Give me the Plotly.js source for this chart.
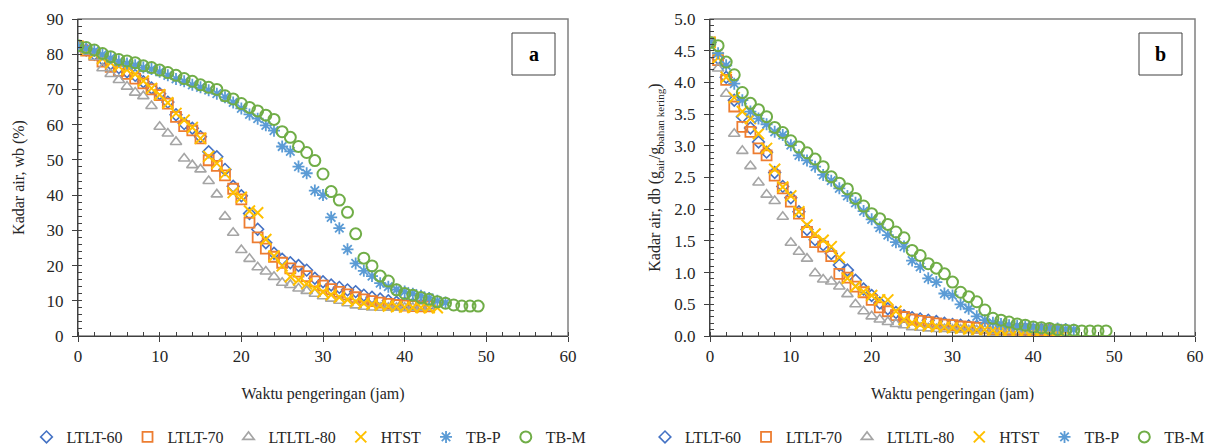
<!DOCTYPE html>
<html>
<head>
<meta charset="utf-8">
<script src="https://cdn.plot.ly/plotly-3.0.1.min.js"></script>
<style>html,body{margin:0;padding:0;background:#fff;}#chart{width:1212px;height:448px;}</style>
</head>
<body>
<div id="chart"></div>
<script>
// Time (jam)
const hours = [0,1,2,3,4,5,6,7,8,9,10,11,12,13,14,15,16,17,18,19,20,21,22,23,24,25,26,27,28,29,30,31,32,33,34,35,36,37,38,39,40,41,42,43,44,45,46,47,48,49];

const seriesNames = ['LTLT-60','LTLT-70','LTLTL-80','HTST','TB-P','TB-M'];

// Panel a: Kadar air, wb (%)
const wb_LTLT60 = [82.2,81.2,80.0,78.6,77.3,76.2,75.0,74.0,72.2,70.4,68.8,66.4,62.8,60.3,59.0,56.6,52.3,50.9,47.3,42.5,39.8,34.8,30.3,26.5,23.5,21.8,20.8,20.0,18.7,16.4,15.4,14.5,13.8,13.1,12.6,11.6,11.0,10.5,10.0,9.6,9.3,9.0,8.8,8.7];
const wb_LTLT70 = [82.2,81.0,79.8,77.9,76.4,75.3,74.4,73.1,71.7,70.0,68.4,66.0,62.2,59.6,58.4,56.1,49.9,48.3,45.6,41.8,38.8,32.2,28.0,24.8,22.5,20.8,19.2,18.3,17.0,15.5,14.3,13.3,12.5,11.8,11.0,10.4,9.9,9.5,9.1,8.8,8.6,8.5,8.4,8.4];
const wb_LTLTL80 = [82.2,80.8,79.2,76.0,74.4,72.7,70.8,69.1,68.1,65.3,59.4,57.5,55.1,50.4,48.5,47.3,44.0,40.2,33.9,29.3,24.4,21.9,19.5,18.3,16.8,15.1,14.5,13.5,12.8,12.0,11.3,10.6,10.0,9.3,8.7,8.3,8.1,8.0,8.0,8.0,8.0,8.0,8.0,8.0];
const wb_HTST = [82.2,81.3,80.2,78.8,77.6,76.6,75.6,74.3,72.4,70.3,68.5,66.2,63.2,61.3,59.2,56.1,51.0,49.0,46.1,40.7,39.4,35.5,35.0,27.4,22.7,19.9,16.8,15.9,14.8,13.5,12.5,11.7,11.0,10.3,9.8,9.3,9.0,8.7,8.5,8.3,8.2,8.1,8.1,8.0,8.0];
const wb_TBP = [82.2,81.6,80.9,79.9,78.9,78.0,77.4,76.9,76.2,75.8,75.0,74.0,73.0,72.3,71.3,70.6,69.8,68.8,67.8,66.3,64.6,62.9,61.7,59.8,58.3,53.8,52.4,48.1,46.2,41.3,40.0,33.7,30.6,24.6,20.6,18.5,17.0,15.0,14.0,13.2,12.6,12.0,11.4,10.8,10.0,9.5];
const wb_TBM = [82.4,81.9,81.2,80.2,79.3,78.5,78.1,77.6,76.7,76.2,75.5,74.8,74.0,73.1,72.3,71.3,70.6,70.0,68.2,67.3,66.0,64.9,63.9,62.7,61.5,58.0,56.4,53.8,52.1,49.8,46.0,41.0,38.6,35.1,29.0,22.1,19.9,17.0,15.6,13.1,12.1,11.6,10.9,10.4,9.7,9.3,8.8,8.5,8.5,8.5];

// Panel b: Kadar air, db (g air / g bahan kering)
const db_LTLT60 = [4.63,4.38,4.08,3.72,3.46,3.28,3.06,2.90,2.58,2.36,2.18,1.96,1.68,1.52,1.44,1.30,1.12,1.04,0.88,0.74,0.64,0.52,0.43,0.37,0.32,0.29,0.27,0.25,0.23,0.20,0.18,0.17,0.16,0.15,0.14,0.13,0.12,0.12,0.11,0.11,0.10,0.10,0.10,0.09];
const db_LTLT70 = [4.63,4.35,4.04,3.62,3.30,3.22,2.96,2.85,2.53,2.33,2.12,1.93,1.64,1.48,1.41,1.26,0.98,0.92,0.78,0.69,0.57,0.45,0.39,0.33,0.30,0.26,0.24,0.22,0.20,0.18,0.17,0.15,0.14,0.13,0.12,0.11,0.11,0.10,0.10,0.10,0.09,0.09,0.09,0.09];
const db_LTLTL80 = [4.63,4.22,3.82,3.19,2.92,2.68,2.42,2.23,2.13,1.88,1.47,1.33,1.22,0.99,0.89,0.86,0.78,0.66,0.50,0.39,0.31,0.26,0.22,0.19,0.17,0.14,0.13,0.12,0.11,0.11,0.10,0.10,0.09,0.09,0.09,0.08,0.08,0.08,0.08,0.08,0.08,0.08,0.08,0.08];
const db_HTST = [4.63,4.39,4.08,3.76,3.54,3.43,3.19,2.96,2.63,2.35,2.21,1.96,1.75,1.61,1.51,1.41,1.24,0.91,0.78,0.70,0.64,0.57,0.57,0.39,0.26,0.21,0.18,0.16,0.15,0.14,0.13,0.12,0.11,0.10,0.10,0.09,0.09,0.09,0.09,0.08,0.08,0.08,0.08,0.08,0.08];
const db_TBP = [4.63,4.46,4.27,3.98,3.72,3.54,3.43,3.34,3.22,3.17,3.01,2.85,2.77,2.67,2.54,2.45,2.33,2.21,2.10,1.97,1.84,1.71,1.59,1.48,1.41,1.19,1.09,0.91,0.85,0.67,0.64,0.50,0.43,0.31,0.25,0.21,0.19,0.17,0.16,0.15,0.14,0.13,0.12,0.12,0.11,0.10];
const db_TBM = [4.63,4.58,4.32,4.12,3.84,3.67,3.57,3.46,3.29,3.21,3.08,2.98,2.89,2.79,2.67,2.51,2.41,2.32,2.17,2.05,1.93,1.85,1.76,1.64,1.55,1.35,1.27,1.14,1.07,0.98,0.85,0.69,0.62,0.54,0.41,0.28,0.25,0.22,0.19,0.17,0.14,0.13,0.12,0.10,0.09,0.09,0.08,0.08,0.08,0.08];

const panelA = [wb_LTLT60, wb_LTLT70, wb_LTLTL80, wb_HTST, wb_TBP, wb_TBM];
const panelB = [db_LTLT60, db_LTLT70, db_LTLTL80, db_HTST, db_TBP, db_TBM];

const styles = [
  {symbol:'diamond-open', color:'#4472C4', size:9, w:1.6},
  {symbol:'square-open', color:'#ED7D31', size:10, w:1.8},
  {symbol:'triangle-up-open', color:'#A5A5A5', size:10, w:1.6},
  {symbol:'x-thin-open', color:'#FFC000', size:11, w:2},
  {symbol:'asterisk-open', color:'#5B9BD5', size:10, w:1.8},
  {symbol:'circle-open', color:'#70AD47', size:11, w:2}
];

const FONT = 'Liberation Serif';
const traces = [];
function addPanel(data, xa, ya, legendId) {
  data.forEach((vals, i) => {
    const s = styles[i];
    traces.push({
      type:'scatter', mode:'markers', name: seriesNames[i],
      x: hours.slice(0, vals.length), y: vals,
      xaxis: xa, yaxis: ya, legend: legendId,
      marker:{symbol:s.symbol, size:s.size, color:s.color, line:{color:s.color, width:s.w}},
      hoverinfo:'x+y+name'
    });
  });
}
addPanel(panelA, 'x', 'y', 'legend');
addPanel(panelB, 'x2', 'y2', 'legend2');

const W = 1212, H = 448, ml = 20, mr = 10, mt = 19, mb = 112;
const pw = W - ml - mr, ph = H - mt - mb;
const px = v => (v - ml) / pw;       // page px -> paper x
const py = v => (H - mb - v) / ph;   // page px -> paper y

const tickFont = {family: FONT, size: 17, color: '#262626'};
const axisCommon = {
  showgrid:false, zeroline:false, showline:true, linecolor:'#404040', linewidth:1,
  ticks:'outside', ticklen:5, tickcolor:'#404040', tickwidth:1,
  tickfont: tickFont, fixedrange:true, automargin:false
};
function xAxis(domain, anchor) {
  return Object.assign({}, axisCommon, {
    domain: domain, anchor: anchor, range:[0,60], tickmode:'linear', tick0:0, dtick:10,
    minor:{dtick:2, ticks:'inside', ticklen:4, tickcolor:'#404040'},
    title:{text:'Waktu pengeringan (jam)', font:{family:FONT, size:16, color:'#262626'}, standoff:22}
  });
}

const layout = {
  width: W, height: H,
  margin:{l:ml, r:mr, t:mt, b:mb, autoexpand:false},
  paper_bgcolor:'#fff', plot_bgcolor:'#fff',
  font:{family:FONT, color:'#262626'},
  xaxis: xAxis([px(78), px(568)], 'y'),
  xaxis2: xAxis([px(710), px(1195)], 'y2'),
  yaxis: Object.assign({}, axisCommon, {
    domain:[0,1], anchor:'x', range:[0,90], tickmode:'linear', tick0:0, dtick:10,
    ticklabelstandoff:5,
    minor:{dtick:2, ticks:'inside', ticklen:4, tickcolor:'#404040'},
    title:{text:'Kadar air, wb (%)', font:{family:FONT, size:16, color:'#262626'}, standoff:17}
  }),
  yaxis2: Object.assign({}, axisCommon, {
    domain:[0,1], anchor:'x2', range:[0,5], tickmode:'linear', tick0:0, dtick:0.5, tickformat:'.1f',
    ticklabelstandoff:5,
    minor:{dtick:0.1, ticks:'inside', ticklen:4, tickcolor:'#404040'},
    title:{text:'Kadar air, db (g<sub>air</sub>/g<sub>bahan kering</sub>)', font:{family:FONT, size:16, color:'#262626'}, standoff:9}
  }),
  showlegend:true,
  legend:{orientation:'h', x:px(309), xanchor:'center', y:py(437), yanchor:'middle',
    font:{family:FONT, size:16, color:'#262626'}, itemwidth:30, bgcolor:'rgba(0,0,0,0)', itemclick:false},
  legend2:{orientation:'h', x:px(1210), xanchor:'right', y:py(437), yanchor:'middle',
    font:{family:FONT, size:16, color:'#262626'}, itemwidth:30, bgcolor:'rgba(0,0,0,0)', itemclick:false},
  shapes:[
    {type:'rect', xref:'x domain', yref:'y domain', x0:0, x1:1, y0:0, y1:1, line:{color:'#808080', width:1.5}, layer:'below'},
    {type:'rect', xref:'x2 domain', yref:'y2 domain', x0:0, x1:1, y0:0, y1:1, line:{color:'#808080', width:1.5}, layer:'below'},
    {type:'rect', xref:'paper', yref:'paper', x0:px(512), x1:px(555), y0:py(75), y1:py(33), line:{color:'#404040', width:1}, fillcolor:'#fff'},
    {type:'rect', xref:'paper', yref:'paper', x0:px(1139), x1:px(1182), y0:py(75), y1:py(33), line:{color:'#404040', width:1}, fillcolor:'#fff'}
  ],
  annotations:[
    {xref:'paper', yref:'paper', x:px(533.5), y:py(54), xanchor:'center', yanchor:'middle', text:'<b>a</b>', showarrow:false, font:{family:FONT, size:20, color:'#000'}},
    {xref:'paper', yref:'paper', x:px(1160.5), y:py(54), xanchor:'center', yanchor:'middle', text:'<b>b</b>', showarrow:false, font:{family:FONT, size:20, color:'#000'}}
  ]
};

Plotly.newPlot('chart', traces, layout, {displayModeBar:false, staticPlot:true});
</script>
</body>
</html>
